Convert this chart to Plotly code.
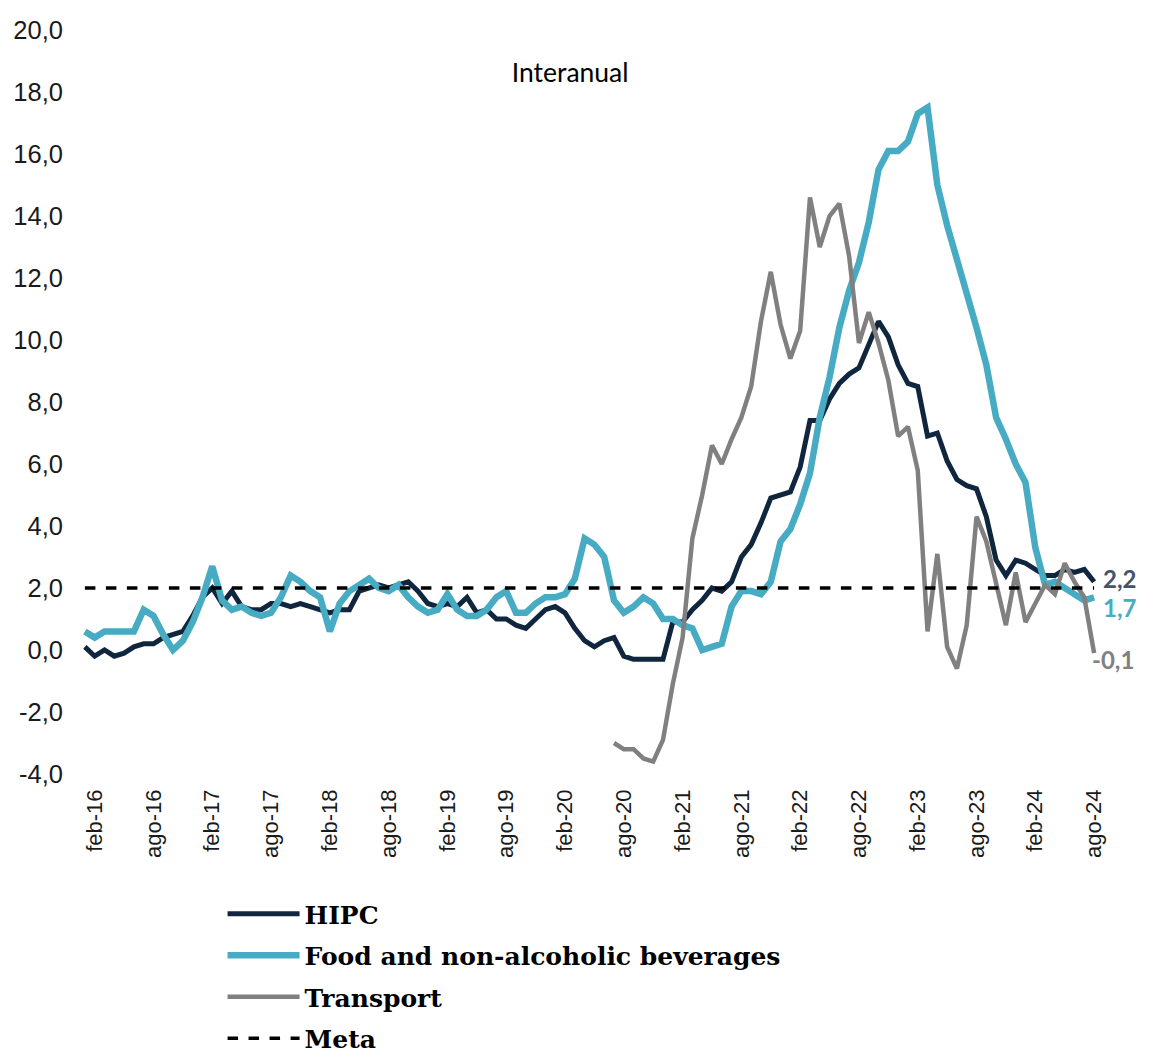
import plotly.graph_objects as go

# ---------------- data ----------------
MONTH_ABBR = ["ene", "feb", "mar", "abr", "may", "jun", "jul", "ago", "sep", "oct", "nov", "dic"]
YEARS = list(range(16, 25))
N_MONTHS = 104  # ene-16 ... ago-24
categories = [f"{MONTH_ABBR[m]}-{y}" for y in YEARS for m in range(12)][:N_MONTHS]

hipc = [
    0.1, -0.2, 0.0, -0.2, -0.1, 0.1, 0.2, 0.2, 0.4, 0.5, 0.6, 1.1,
    1.7, 2.0, 1.5, 1.9, 1.4, 1.3, 1.3, 1.5, 1.5, 1.4, 1.5, 1.4,
    1.3, 1.2, 1.3, 1.3, 1.9, 2.0, 2.1, 2.0, 2.1, 2.2, 1.9, 1.5,
    1.4, 1.5, 1.4, 1.7, 1.2, 1.3, 1.0, 1.0, 0.8, 0.7, 1.0, 1.3,
    1.4, 1.2, 0.7, 0.3, 0.1, 0.3, 0.4, -0.2, -0.3, -0.3, -0.3, -0.3,
    0.9, 0.9, 1.3, 1.6, 2.0, 1.9, 2.2, 3.0, 3.4, 4.1, 4.9, 5.0,
    5.1, 5.9, 7.4, 7.4, 8.1, 8.6, 8.9, 9.1, 9.9, 10.6, 10.1, 9.2,
    8.6, 8.5, 6.9, 7.0, 6.1, 5.5, 5.3, 5.2, 4.3, 2.9, 2.4, 2.9,
    2.8, 2.6, 2.4, 2.4, 2.6, 2.5, 2.6, 2.2,
]

food = [
    0.6, 0.4, 0.6, 0.6, 0.6, 0.6, 1.3, 1.1, 0.5, 0.0, 0.3, 0.9,
    1.7, 2.7, 1.6, 1.3, 1.4, 1.2, 1.1, 1.2, 1.7, 2.4, 2.2, 1.9,
    1.7, 0.6, 1.5, 1.9, 2.1, 2.3, 2.0, 1.9, 2.1, 1.7, 1.4, 1.2,
    1.3, 1.8, 1.3, 1.1, 1.1, 1.3, 1.7, 1.9, 1.2, 1.2, 1.5, 1.7,
    1.7, 1.8, 2.3, 3.6, 3.4, 3.0, 1.6, 1.2, 1.4, 1.7, 1.5, 1.0,
    1.0, 0.8, 0.7, 0.0, 0.1, 0.2, 1.4, 1.9, 1.9, 1.8, 2.2, 3.5,
    3.9, 4.7, 5.7, 7.5, 8.8, 10.4, 11.6, 12.5, 13.8, 15.5, 16.1, 16.1,
    16.4, 17.3, 17.5, 15.0, 13.7, 12.6, 11.6, 10.4, 9.2, 7.5, 6.8, 6.0,
    5.4, 3.3, 2.1, 2.2, 2.0, 1.8, 1.6, 1.7,
]

transport = [None] * 54 + [
    -3.0, -3.2, -3.2, -3.5, -3.6, -2.9,
    -1.1, 0.4, 3.6, 5.0, 6.6, 6.0, 6.8, 7.5, 8.5, 10.6, 12.2, 10.5,
    9.4, 10.3, 14.6, 13.0, 14.0, 14.4, 12.7, 9.9, 10.9, 9.9, 8.7, 6.9,
    7.2, 5.8, 0.6, 3.1, 0.1, -0.6, 0.8, 4.3, 3.5, 2.2, 0.8, 2.5,
    0.9, 1.5, 2.1, 1.8, 2.8, 2.2, 1.7, -0.1,
]

META = 2.0
meta = [META] * N_MONTHS

x_tick_labels = categories[1::6]          # feb / ago of each year
y_ticks = list(range(-4, 21, 2))
y_tick_text = [f"{v:.1f}".replace(".", ",") for v in y_ticks]

SERIES_NAMES = ["HIPC", "Food and non-alcoholic beverages", "Transport", "Meta"]

# ---------------- styles ----------------
C_HIPC = "#10263F"
C_FOOD = "#47ACC3"
C_TRANS = "#808080"
C_HIPC_LABEL = "#44546A"

fig = go.Figure()
fig.add_trace(go.Scatter(x=categories, y=hipc, name=SERIES_NAMES[0], mode="lines", legendgroup="g1",
                         line=dict(color=C_HIPC, width=5)))
fig.add_trace(go.Scatter(x=categories, y=food, name=SERIES_NAMES[1], mode="lines", legendgroup="g2",
                         line=dict(color=C_FOOD, width=6.5)))
fig.add_trace(go.Scatter(x=categories, y=transport, name=SERIES_NAMES[2], mode="lines", legendgroup="g3",
                         line=dict(color=C_TRANS, width=4.5)))
fig.add_trace(go.Scatter(x=categories, y=meta, name=SERIES_NAMES[3], mode="lines", legendgroup="g4",
                         line=dict(color="#000000", width=3.5, dash="dash")))


def fmt(v):
    return f"{v:.1f}".replace(".", ",")


end_labels = [
    (hipc[-1], C_HIPC_LABEL, 3, 7),
    (food[-1], C_FOOD, -10, 7),
    (transport[-1], C_TRANS, -6, -4),
]
for val, col, ysh, xsh in end_labels:
    fig.add_annotation(x=categories[-1], y=val, text=f"<b>{fmt(val)}</b>", showarrow=False,
                       xanchor="left", yanchor="middle", xshift=xsh, yshift=ysh,
                       font=dict(family="Lato, Open Sans, sans-serif", size=24, color=col))

fig.update_layout(
    width=1166, height=1059,
    margin=dict(l=80, r=67, t=30, b=285),
    paper_bgcolor="white", plot_bgcolor="white",
    title=dict(text="Interanual", x=0.481, xref="paper", xanchor="center",
               y=0.942, yref="paper", yanchor="middle",
               font=dict(family="Lato, Open Sans, sans-serif", size=26.5, color="#000000")),
    showlegend=True,
    legend=dict(orientation="v", x=0.1399, xanchor="left", xref="paper",
                y=0.1586, yanchor="top", yref="container",
                font=dict(family="DejaVu Serif, serif", size=25, color="#000000", weight="bold"),
                tracegroupgap=6, itemwidth=72, bgcolor="rgba(0,0,0,0)", borderwidth=0),
    xaxis=dict(type="category", range=[-0.5, N_MONTHS - 0.5], tickmode="array",
               tickvals=x_tick_labels, ticktext=x_tick_labels, tickangle=-90,
               tickfont=dict(family="Liberation Sans, Arial, sans-serif", size=22, color="#1a1a1a"),
               showgrid=False, zeroline=False, showline=False, ticks="",
               ticklabelstandoff=10),
    yaxis=dict(range=[-4, 20], tickmode="array", tickvals=y_ticks, ticktext=y_tick_text,
               tickfont=dict(family="Liberation Sans, Arial, sans-serif", size=25.5, color="#1a1a1a"),
               showgrid=False, zeroline=False, showline=False, ticks="",
               ticklabelstandoff=16),
)

fig.write_html("out.html", config={"displayModeBar": False},
               post_script="document.body.style.margin='0';")
